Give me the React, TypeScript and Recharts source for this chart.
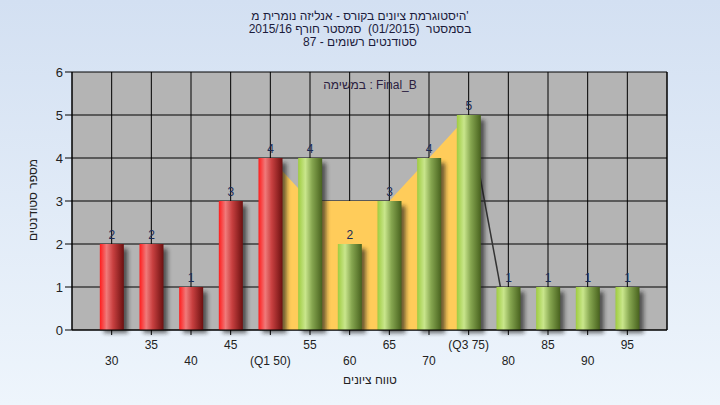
import React from "react";
import { Area, Bar, CartesianGrid, ComposedChart, LabelList, XAxis, YAxis } from "recharts";

// grade buckets on the x axis
const scores = [30, 35, 40, 45, 50, 55, 60, 65, 70, 75, 80, 85, 90, 95];
const scoreLabels = ["30", "35", "40", "45", "(Q1 50)", "55", "60", "65", "70", "(Q3 75)", "80", "85", "90", "95"];
// number of students per bucket
const students = [2, 2, 1, 3, 4, 4, 2, 3, 4, 5, 1, 1, 1, 1];
// yellow band between Q1 and Q3
const quartileBand = [null, null, null, null, 4, 3, 3, 3, 4, 5, null, null, null, null];
// dark drop line after Q3
const dropLine = [null, null, null, null, null, null, null, null, null, 5, 0, null, null, null];
const yTicks = [0, 1, 2, 3, 4, 5, 6];
const passMark = 50;

const titleLines = [
  "היסטוגרמת ציונים בקורס - אנליזה נומרית מ'",
  "בסמסטר  (01/2015)  סמסטר חורף 2015/16",
  "סטודנטים רשומים - 87",
];
const taskLabel = "במשימה : Final_B";
const xLabel = "טווח ציונים";
const yLabel = "מספר סטודנטים";

const data = scores.map((score, i) => ({
  score,
  count: students[i],
  band: quartileBand[i],
  drop: dropLine[i],
}));

const font = "'Liberation Sans', Arial, sans-serif";

function CylinderBar(props: any) {
  const { x, y, width, height, index } = props;
  if (!height || height <= 0) return null;
  const fail = scores[index] <= passMark;
  return (
    <g>
      <rect x={x + 4} y={y + 5} width={width} height={height - 2} fill="#1a1a1a" opacity={0.65} filter="url(#barShadow)" />
      <rect x={x} y={y} width={width} height={height} fill={fail ? "url(#gradRed)" : "url(#gradGreen)"} />
    </g>
  );
}

function ScoreTick(props: any) {
  const { x, y, payload } = props;
  const i = scores.indexOf(payload.value);
  const lower = i % 2 === 0;
  return (
    <text x={x} y={y + (lower ? 28 : 12)} textAnchor="middle" fontSize={12} fontFamily={font} fill="#222">
      {scoreLabels[i]}
    </text>
  );
}

export default function App() {
  return (
    <div
      style={{
        position: "absolute",
        left: 0,
        top: 0,
        width: 720,
        height: 405,
        background: "linear-gradient(#d3e0f2, #eef5fc)",
        fontFamily: font,
        overflow: "hidden",
      }}
    >
      <svg width={0} height={0} style={{ position: "absolute" }}>
        <defs>
          <linearGradient id="gradRed" x1="0" y1="0" x2="1" y2="0">
            <stop offset="0%" stopColor="#ff1c1c" />
            <stop offset="28%" stopColor="#f07a7a" />
            <stop offset="55%" stopColor="#c84040" />
            <stop offset="100%" stopColor="#6c1010" />
          </linearGradient>
          <linearGradient id="gradGreen" x1="0" y1="0" x2="1" y2="0">
            <stop offset="0%" stopColor="#9fcc40" />
            <stop offset="30%" stopColor="#c9e68c" />
            <stop offset="58%" stopColor="#86a650" />
            <stop offset="100%" stopColor="#48621e" />
          </linearGradient>
          <filter id="barShadow" x="-50%" y="-10%" width="200%" height="120%">
            <feGaussianBlur stdDeviation="2" />
          </filter>
        </defs>
      </svg>

      <ComposedChart
        width={720}
        height={405}
        data={data}
        margin={{ top: 72, right: 0, bottom: 0, left: 0 }}
        style={{ position: "absolute", left: 0, top: 0 }}
      >
        <CartesianGrid stroke="#000" fill="#b4b4b4" fillOpacity={1} />
        <XAxis
          dataKey="score"
          type="number"
          domain={[25, 100]}
          ticks={scores}
          interval={0}
          height={75}
          tickSize={5}
          stroke="#000"
          tick={<ScoreTick />}
        />
        <YAxis
          domain={[0, 6]}
          ticks={yTicks}
          width={72}
          tickSize={7}
          stroke="#000"
          tick={{ fill: "#222", fontSize: 13, fontFamily: font }}
        />
        <YAxis
          yAxisId="right"
          orientation="right"
          domain={[0, 6]}
          ticks={yTicks}
          width={53}
          tickSize={7}
          stroke="#000"
          tick={{ fill: "#222", fontSize: 13, fontFamily: font }}
        />
        <Area
          dataKey="band"
          type="linear"
          fill="#ffcc5a"
          fillOpacity={1}
          stroke="none"
          isAnimationActive={false}
          activeDot={false}
        />
        <Area
          dataKey="drop"
          type="linear"
          fill="none"
          stroke="#333"
          strokeWidth={1.5}
          dot={false}
          activeDot={false}
          isAnimationActive={false}
        />
        <Bar dataKey="count" barSize={24} shape={<CylinderBar />} isAnimationActive={false}>
          <LabelList dataKey="count" position="top" offset={5} fontSize={12} fill="#1a2a55" fontFamily={font} />
        </Bar>
      </ComposedChart>

      <div
        style={{
          position: "absolute",
          left: 0,
          top: 10,
          width: 720,
          textAlign: "center",
          fontSize: 12,
          lineHeight: "13px",
          color: "#1b1b3b",
          pointerEvents: "none",
        }}
      >
        {titleLines.map((line, i) => (
          <div key={line} dir={i === 0 ? "ltr" : "rtl"} style={{ whiteSpace: "pre", textAlign: "center" }}>
            {line}
          </div>
        ))}
      </div>

      <div
        dir="ltr"
        style={{
          position: "absolute",
          left: 270,
          top: 78,
          width: 200,
          textAlign: "center",
          fontSize: 12,
          color: "#2b2040",
          pointerEvents: "none",
        }}
      >
        {taskLabel}
      </div>

      <div
        dir="rtl"
        style={{
          position: "absolute",
          left: 270,
          top: 373,
          width: 200,
          textAlign: "center",
          fontSize: 12,
          color: "#222",
          pointerEvents: "none",
        }}
      >
        {xLabel}
      </div>

      <div
        dir="rtl"
        style={{
          position: "absolute",
          left: 33 - 60,
          top: 200 - 8,
          width: 120,
          textAlign: "center",
          fontSize: 12,
          lineHeight: "16px",
          color: "#222",
          transform: "rotate(-90deg)",
          transformOrigin: "60px 8px",
          pointerEvents: "none",
        }}
      >
        {yLabel}
      </div>
    </div>
  );
}
